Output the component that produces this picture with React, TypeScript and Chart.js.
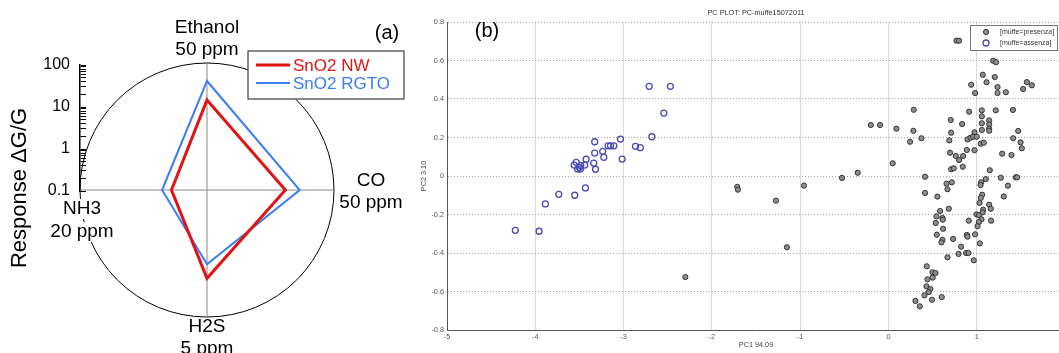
import React, { useEffect, useRef } from 'react';
import { Chart, registerables } from 'chart.js';

Chart.register(...registerables);

const FONT = '"Liberation Sans", Arial, Helvetica, sans-serif';

// ---------- Panel (a): radar of sensor responses (log scale 0.1 .. 100) ----------
const gases = ['Ethanol', 'CO', 'H2S', 'NH3'];
const gasConcentrations = ['50 ppm', '50 ppm', '5 ppm', '20 ppm'];
const responseNW = [13.4, 7.1, 12.2, 0.69];
const responseRGTO = [37.6, 15.5, 5.7, 1.15];
const responseLabelTicks = [0.1, 1, 10, 100];
const responseDecades = [-1, 0, 1];
const responseMantissas = [1, 2, 3, 4, 5, 6, 7, 8, 9];
const RESPONSE_MIN = 0.1;
const RESPONSE_MAX = 100;

// ---------- Panel (b): PCA scatter ----------
const presenzaX = [
  -2.30, -1.712, -1.705, -1.274, -1.15, -0.957, -0.526, -0.348, -0.2, -0.095, 0.09, 0.049,
  0.771, 0.8, 1.186, 1.22, 1.069, 1.205, 0.937, 1.111, 1.236, 0.982, 1.236, 1.33, 1.568, 1.526, 1.625,
  0.287, 0.914, 1.058, 1.216, 1.41, 1.058, 0.706, 1.141, 1.058, 0.835, 1.141, 0.283, 1.141, 1.141,
  1.058, 0.71, 1.47, 0.975, 0.374, 0.245, 0.69, 0.896, 0.93, 0.96, 1.0, 1.413, 1.497, 1.046, 1.08,
  1.511, 0.888, 0.975, 0.698, 0.763, 0.8, 0.846, 1.288, 1.394, 0.71, 0.74, 0.842, 1.148, 0.415,
  1.273, 1.443, 1.458, 1.103, 1.05, 1.043, 0.658, 0.718, 1.353, 0.669, 0.415, 0.555, 1.307, 1.062,
  1.046, 1.032, 1.141, 1.16, 0.684, 0.585, 1.073, 1.066, 0.998, 1.024, 0.544, 0.612, 0.616, 1.054,
  1.163, 0.91, 0.536, 1.024, 1.009, 0.619, 0.982, 0.548, 0.888, 0.896, 0.733, 0.612, 0.6, 1.035,
  0.823, 0.794, 0.88, 0.907, 0.669, 0.967, 0.434, 0.499, 0.533, 0.442, 0.502, 0.431, 0.476, 0.457,
  0.408, 0.604, 0.494, 0.306, 0.355,
];
const presenzaY = [
  -0.525, -0.056, -0.071, -0.128, -0.37, -0.05, -0.01, 0.017, 0.265, 0.265, 0.246, 0.066,
  0.703, 0.703, 0.599, 0.591, 0.526, 0.514, 0.474, 0.487, 0.462, 0.431, 0.431, 0.435, 0.488, 0.452, 0.471,
  0.344, 0.334, 0.341, 0.341, 0.343, 0.31, 0.291, 0.289, 0.274, 0.27, 0.268, 0.235, 0.246, 0.235,
  0.239, 0.225, 0.234, 0.227, 0.196, 0.178, 0.185, 0.19, 0.199, 0.204, 0.204, 0.196, 0.175, 0.168, 0.173,
  0.144, 0.135, 0.134, 0.121, 0.104, 0.083, 0.104, 0.116, 0.109, 0.035, 0.04, 0.048, 0.03, -0.004,
  -0.009, -0.007, -0.007, -0.016, -0.033, -0.047, -0.04, -0.033, -0.05, -0.069, -0.088, -0.107, -0.106, -0.097,
  -0.114, -0.14, -0.149, -0.17, -0.17, -0.182, -0.175, -0.189, -0.199, -0.203, -0.21, -0.218, -0.227, -0.225,
  -0.232, -0.232, -0.244, -0.239, -0.261, -0.274, -0.303, -0.305, -0.306, -0.315, -0.327, -0.332, -0.345, -0.35,
  -0.367, -0.405, -0.4, -0.4, -0.422, -0.438, -0.469, -0.5, -0.504, -0.537, -0.528, -0.573, -0.587, -0.603,
  -0.62, -0.629, -0.643, -0.649, -0.677,
];
const assenzaX = [
  -2.71, -2.47, -2.544, -2.68, -3.035, -3.327, -3.175, -3.148, -3.11, -2.865, -2.81, -3.236, -3.327,
  -3.224, -3.016, -3.424, -3.537, -3.338, -3.56, -3.485, -3.44, -3.52, -3.49, -3.318, -3.50,
  -3.432, -3.734, -3.553, -3.886, -4.226, -3.957,
];
const assenzaY = [
  0.466, 0.466, 0.327, 0.204, 0.192, 0.178, 0.157, 0.157, 0.157, 0.154, 0.147, 0.128, 0.119,
  0.097, 0.088, 0.087, 0.071, 0.067, 0.057, 0.054, 0.057, 0.036, 0.036, 0.035, 0.045,
  -0.062, -0.095, -0.1, -0.145, -0.282, -0.287,
];
const pc1Ticks = [-5, -4, -3, -2, -1, 0, 1, 2];
const pc2Ticks = [-0.8, -0.6, -0.4, -0.2, 0, 0.2, 0.4, 0.6, 0.8];

const RED = '#e01414';
const BLUE = '#3a7df5';

const toLogRadius = (v: number) => Math.log10(v / RESPONSE_MIN);

const radarDecor = {
  id: 'radarDecor',
  afterDraw(chart: any) {
    const ctx = chart.ctx;
    const scale = chart.scales.r;
    const R = scale.drawingArea;
    ctx.save();
    // point labels
    const labelDistance = [13, 37, 10, -2];
    const lineOffsets = [[-22, 0], [-9, 13], [0, 22], [19, 42]];
    const whiteBack = [false, false, false, true];
    ctx.font = `19px ${FONT}`;
    ctx.textAlign = 'center';
    ctx.textBaseline = 'middle';
    gases.forEach((g, i) => {
      const p = scale.getPointPosition(i, R + labelDistance[i]);
      [g, gasConcentrations[i]].forEach((t, j) => {
        const y = p.y + lineOffsets[i][j];
        if (whiteBack[i]) {
          const w = ctx.measureText(t).width;
          ctx.fillStyle = '#fff';
          ctx.fillRect(p.x - w / 2 - 2, y - 10, w + 4, 20);
        }
        ctx.fillStyle = '#000';
        ctx.fillText(t, p.x, y);
      });
    });
    // legend
    const lx = 248, ly = 51, lw = 156, lh = 48;
    ctx.fillStyle = '#fff';
    ctx.fillRect(lx, ly, lw, lh);
    ctx.strokeStyle = '#4a4a4a';
    ctx.lineWidth = 1.3;
    ctx.strokeRect(lx, ly, lw, lh);
    chart.data.datasets.forEach((ds: any, i: number) => {
      const y = ly + 14 + i * 18;
      ctx.strokeStyle = ds.borderColor;
      ctx.lineWidth = ds.borderWidth;
      ctx.beginPath();
      ctx.moveTo(lx + 8, y);
      ctx.lineTo(lx + 42, y);
      ctx.stroke();
      ctx.fillStyle = ds.borderColor;
      ctx.font = `17px ${FONT}`;
      ctx.textAlign = 'left';
      ctx.fillText(ds.label, lx + 45, y + 1);
    });
    // panel letter
    ctx.fillStyle = '#000';
    ctx.font = `20px ${FONT}`;
    ctx.textAlign = 'center';
    ctx.fillText('(a)', 387, 33);
    // axis title
    ctx.translate(20, 188);
    ctx.rotate(-Math.PI / 2);
    ctx.font = `22px ${FONT}`;
    ctx.fillText('Response \u0394G/G', 0, 0);
    ctx.restore();
  },
};

const scatterDecor = {
  id: 'scatterDecor',
  afterDraw(chart: any) {
    const ctx = chart.ctx;
    const area = chart.chartArea;
    ctx.save();
    ctx.fillStyle = '#000';
    ctx.font = `20px ${FONT}`;
    ctx.textAlign = 'center';
    ctx.textBaseline = 'middle';
    ctx.fillText('(b)', area.left + 40, 31);
    // legend
    const w = 87, h = 25;
    const x0 = area.right - 8 - w, y0 = area.top + 3;
    ctx.fillStyle = '#fff';
    ctx.fillRect(x0, y0, w, h);
    ctx.strokeStyle = '#777';
    ctx.lineWidth = 1;
    ctx.strokeRect(x0 + 0.5, y0 + 0.5, w, h);
    chart.data.datasets.forEach((ds: any, i: number) => {
      const y = y0 + 7 + i * 11;
      ctx.beginPath();
      ctx.arc(x0 + 16, y, ds.pointRadius, 0, Math.PI * 2);
      ctx.fillStyle = ds.pointBackgroundColor;
      ctx.fill();
      ctx.strokeStyle = ds.pointBorderColor;
      ctx.lineWidth = ds.pointBorderWidth;
      ctx.stroke();
      ctx.fillStyle = '#333';
      ctx.font = `7px ${FONT}`;
      ctx.textAlign = 'left';
      ctx.fillText(ds.label, x0 + 30, y);
    });
    ctx.restore();
  },
};

function makeRadar(canvas: HTMLCanvasElement) {
  return new Chart(canvas, {
    type: 'radar',
    data: {
      labels: gases,
      datasets: [
        {
          label: 'SnO2 NW',
          data: responseNW.map(toLogRadius),
          borderColor: RED,
          backgroundColor: 'rgba(0,0,0,0)',
          borderWidth: 3,
          fill: false,
          pointRadius: 0,
          borderJoinStyle: 'miter',
        },
        {
          label: 'SnO2 RGTO',
          data: responseRGTO.map(toLogRadius),
          borderColor: BLUE,
          backgroundColor: 'rgba(0,0,0,0)',
          borderWidth: 2,
          fill: false,
          pointRadius: 0,
          borderJoinStyle: 'miter',
        },
      ],
    },
    options: {
      animation: false,
      responsive: false,
      layout: { padding: { left: 80, top: 63, right: 86, bottom: 36 } },
      plugins: { legend: { display: false }, tooltip: { enabled: false } },
      scales: {
        r: {
          min: 0,
          max: toLogRadius(RESPONSE_MAX),
          ticks: { display: false, stepSize: toLogRadius(RESPONSE_MAX) },
          grid: { color: '#000', lineWidth: 1, circular: true },
          angleLines: { color: '#8a8a8a', lineWidth: 1 },
          pointLabels: { display: false },
        },
      },
    },
    plugins: [radarDecor],
  } as any);
}

function makeLogAxis(canvas: HTMLCanvasElement) {
  const tickValues: number[] = [];
  responseDecades.forEach((e) =>
    responseMantissas.forEach((m) => tickValues.push(parseFloat((m * Math.pow(10, e)).toPrecision(3))))
  );
  tickValues.push(RESPONSE_MAX);
  return new Chart(canvas, {
    type: 'scatter',
    data: { datasets: [] },
    options: {
      animation: false,
      responsive: false,
      layout: { padding: 0 },
      plugins: { legend: { display: false }, tooltip: { enabled: false } },
      scales: {
        x: { display: false },
        y: {
          type: 'logarithmic',
          position: 'left',
          min: RESPONSE_MIN,
          max: RESPONSE_MAX,
          afterFit: (s: any) => {
            s.width = 50;
          },
          afterBuildTicks: (s: any) => {
            s.ticks = tickValues.map((v) => ({ value: v }));
          },
          border: { display: true, color: '#000', width: 1.5 },
          grid: { drawTicks: false, drawOnChartArea: true, color: '#000', lineWidth: 1 },
          ticks: {
            autoSkip: false,
            padding: 10,
            color: '#000',
            font: { family: FONT, size: 16, lineHeight: 1.25 },
            callback: (v: any) => (responseLabelTicks.some((t) => Math.abs(t - v) < 1e-9) ? String(v) : ''),
          },
        },
      },
    },
  } as any);
}

function makeScatter(canvas: HTMLCanvasElement) {
  const smallFont = { family: FONT, size: 7.3 };
  return new Chart(canvas, {
    type: 'scatter',
    data: {
      datasets: [
        {
          label: '[muffe=presenza]',
          data: presenzaX.map((x, i) => ({ x, y: presenzaY[i] })),
          pointRadius: 2.6,
          pointBackgroundColor: '#8e8e8e',
          pointBorderColor: '#333',
          pointBorderWidth: 1,
        },
        {
          label: '[muffe=assenza]',
          data: assenzaX.map((x, i) => ({ x, y: assenzaY[i] })),
          pointRadius: 3,
          pointBackgroundColor: 'rgba(0,0,0,0)',
          pointBorderColor: '#4a4ab4',
          pointBorderWidth: 1.3,
        },
      ],
    },
    options: {
      animation: false,
      responsive: false,
      layout: { padding: { left: 0, right: 15, top: 0, bottom: 0 } },
      plugins: {
        legend: { display: false },
        tooltip: { enabled: false },
        title: {
          display: true,
          text: 'PC PLOT: PC-muffe15072011',
          fullSize: false,
          color: '#333',
          font: { ...smallFont, weight: 'normal' },
          padding: { top: 9, bottom: 4.24 },
        },
      },
      scales: {
        x: {
          type: 'linear',
          min: pc1Ticks[0],
          max: pc1Ticks[pc1Ticks.length - 1],
          afterFit: (s: any) => {
            s.height = 23;
          },
          afterBuildTicks: (s: any) => {
            s.ticks = pc1Ticks.map((v) => ({ value: v }));
          },
          border: { display: true, color: '#555', width: 1 },
          grid: { color: '#dadada', lineWidth: 1, drawTicks: false },
          ticks: { padding: 3, color: '#555', font: smallFont, maxRotation: 0, callback: (v: any) => String(Math.round(v)) },
          title: { display: true, text: 'PC1 94.09', color: '#444', font: smallFont, padding: { top: 0, bottom: 3.8 } },
        },
        y: {
          type: 'linear',
          min: pc2Ticks[0],
          max: pc2Ticks[pc2Ticks.length - 1],
          afterFit: (s: any) => {
            s.width = 27;
          },
          afterBuildTicks: (s: any) => {
            s.ticks = pc2Ticks.map((v) => ({ value: v }));
          },
          border: { display: true, color: '#555', width: 1, dash: [1, 2] },
          grid: { color: '#a4a4a4', lineWidth: 1, drawTicks: false },
          ticks: {
            padding: 3,
            color: '#555',
            font: smallFont,
            callback: (v: any) => (Math.abs(v) < 1e-9 ? '0' : Number(v).toFixed(1)),
          },
          title: { display: true, text: 'PC2 3.10', color: '#444', font: smallFont, padding: { top: 0, bottom: 0 } },
        },
      },
    },
    plugins: [scatterDecor],
  } as any);
}

export default function App() {
  const radarRef = useRef<HTMLCanvasElement>(null);
  const axisRef = useRef<HTMLCanvasElement>(null);
  const scatterRef = useRef<HTMLCanvasElement>(null);

  useEffect(() => {
    const charts = [
      makeRadar(radarRef.current as HTMLCanvasElement),
      makeLogAxis(axisRef.current as HTMLCanvasElement),
      makeScatter(scatterRef.current as HTMLCanvasElement),
    ];
    return () => charts.forEach((c) => c.destroy());
  }, []);

  return (
    <div
      style={{
        position: 'absolute',
        left: 0,
        top: 0,
        width: 1059,
        height: 353,
        overflow: 'hidden',
        background: '#fff',
      }}
    >
      <canvas ref={radarRef} width={420} height={353} style={{ position: 'absolute', left: 0, top: 0, width: 420, height: 353 }} />
      <canvas ref={axisRef} width={56} height={166} style={{ position: 'absolute', left: 30, top: 45, width: 56, height: 166 }} />
      <canvas ref={scatterRef} width={660} height={353} style={{ position: 'absolute', left: 420, top: 0, width: 660, height: 353 }} />
    </div>
  );
}
